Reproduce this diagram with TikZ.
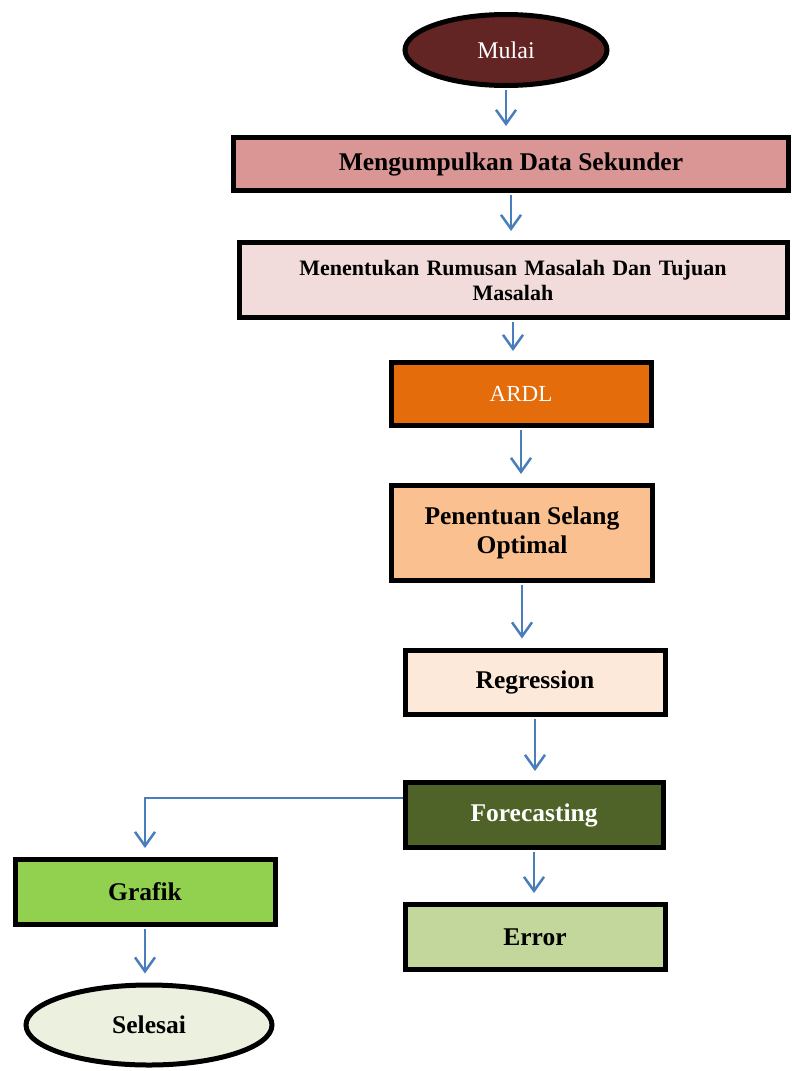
\documentclass[tikz,border=0pt]{standalone}
\usepackage{fontspec}
\setmainfont{Liberation Serif}
\usepackage{tikz}
\usetikzlibrary{arrows.meta,shapes.geometric}

\definecolor{maroon}{HTML}{632523}
\definecolor{pinkA}{HTML}{D99694}
\definecolor{pinkB}{HTML}{F2DCDB}
\definecolor{orangeA}{HTML}{E46C0A}
\definecolor{orangeB}{HTML}{FAC090}
\definecolor{orangeC}{HTML}{FDE9D9}
\definecolor{oliveA}{HTML}{4F6228}
\definecolor{greenA}{HTML}{92D050}
\definecolor{greenB}{HTML}{C3D69B}
\definecolor{greenC}{HTML}{EBF1DE}
\definecolor{arrowblue}{HTML}{4A7EBB}

\begin{document}
\begin{tikzpicture}[%
    x=1pt, y=-1pt,
    >={Straight Barb[length=14pt,width=20pt]},
    box/.style={draw=black, line width=5pt, rectangle, inner sep=0pt,
      font=\fontsize{25.5}{29}\selectfont\bfseries, align=center},
    oval/.style={draw=black, line width=5pt, ellipse, inner sep=0pt,
      font=\fontsize{24}{28}\selectfont},
    arr/.style={->, draw=arrowblue, line width=2.5pt,
      shorten <=2pt, shorten >=9pt},
  ]
    \useasboundingbox (0,0) rectangle (792,1071);

    \node[oval, fill=maroon, text=white, minimum width=202, minimum height=71]
      (mulai) at (506,50) {Mulai};
    \node[box, fill=pinkA, minimum width=555, minimum height=53]
      (data) at (511,164) {Mengumpulkan Data Sekunder};
    \node[box, fill=pinkB, minimum width=548, minimum height=75,
      font=\fontsize{22}{25}\selectfont\bfseries, text width=480]
      (rumusan) at (513,280) {Menentukan Rumusan Masalah Dan Tujuan\\Masalah};
    \node[box, fill=orangeA, text=white, font=\fontsize{23}{28}\selectfont,
      minimum width=260, minimum height=63]
      (ardl) at (521,394) {ARDL};
    \node[box, fill=orangeB, minimum width=261, minimum height=95]
      (selang) at (522,533) {Penentuan Selang\\Optimal};
    \node[box, fill=orangeC, minimum width=260, minimum height=64]
      (regresi) at (535,682) {Regression};
    \node[box, fill=oliveA, text=white, minimum width=258, minimum height=65]
      (forecast) at (534,815) {Forecasting};
    \node[box, fill=greenB, minimum width=260, minimum height=65]
      (error) at (535,937) {Error};
    \node[box, fill=greenA, minimum width=260, minimum height=65]
      (grafik) at (145,892) {Grafik};
    \node[oval, fill=greenC, font=\fontsize{25.5}{29}\selectfont\bfseries,
      minimum width=246, minimum height=80]
      (selesai) at (149,1025) {Selesai};

    \path[every edge/.style={arr}]
    (mulai.south) edge (mulai.south |- data.north)
    (data.south) edge (data.south |- rumusan.north)
    (rumusan.south) edge (rumusan.south |- ardl.north)
    (ardl.south) edge (ardl.south |- selang.north)
    (selang.south) edge (selang.south |- regresi.north)
    (regresi.south) edge (regresi.south |- forecast.north)
    (forecast.south) edge (forecast.south |- error.north)
    (grafik.south) edge (grafik.south |- selesai.north)
    ;
    \draw[arr, shorten <=0pt] ([yshift=17pt]forecast.west) -| (grafik.north);
  \end{tikzpicture}
\end{document}
